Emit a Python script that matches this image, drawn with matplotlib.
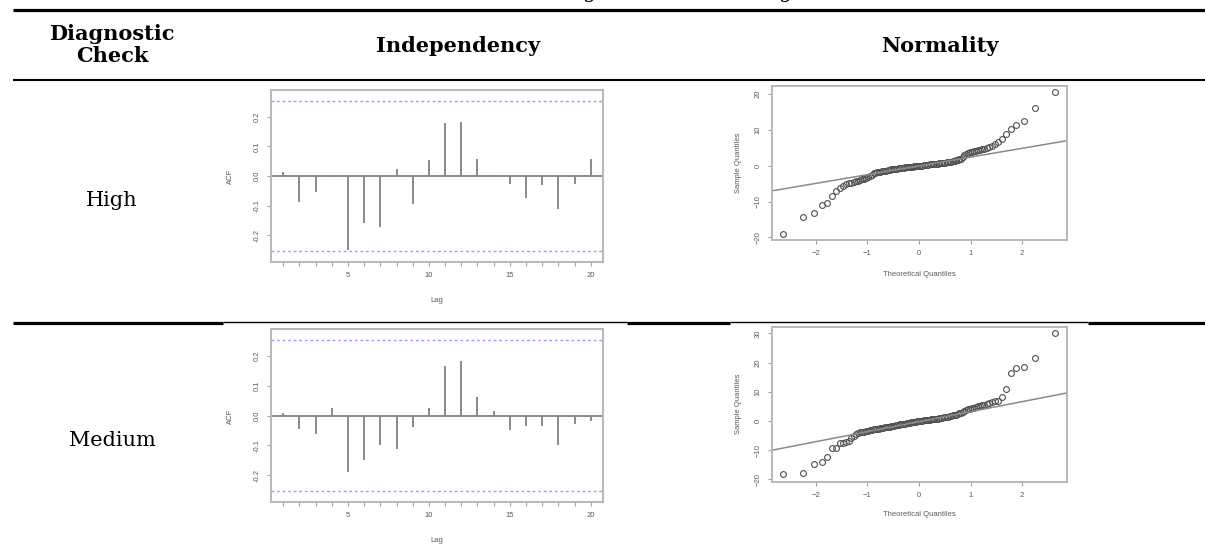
import matplotlib
matplotlib.use("Agg")
import matplotlib.pyplot as plt
from matplotlib.lines import Line2D

# ---- data ----
row_labels = ["High", "Medium"]
col_headers = ["Diagnostic\nCheck", "Independency", "Normality"]

lags = list(range(1, 21))
acf_high = [0.013, -0.087, -0.053, -0.004, -0.250, -0.157, -0.171, 0.022, -0.094, 0.054,
            0.180, 0.182, 0.058, 0.005, -0.028, -0.073, -0.030, -0.110, -0.028, 0.056]
acf_medium = [0.009, -0.045, -0.062, 0.025, -0.190, -0.150, -0.098, -0.111, -0.038, 0.024,
              0.166, 0.184, 0.062, 0.015, -0.047, -0.036, -0.036, -0.098, -0.027, -0.020]
acf_ci = 0.252

theo_q = [-2.64, -2.24, -2.04, -1.89, -1.78, -1.69, -1.61, -1.53, -1.47, -1.41, -1.36, -1.31,
          -1.26, -1.22, -1.18, -1.14, -1.10, -1.06, -1.02, -0.98, -0.95, -0.92, -0.88, -0.85,
          -0.82, -0.78, -0.75, -0.72, -0.69, -0.66, -0.63, -0.60, -0.57, -0.54, -0.51, -0.48,
          -0.45, -0.42, -0.39, -0.36, -0.33, -0.30, -0.27, -0.24, -0.21, -0.18, -0.15, -0.12,
          -0.09, -0.06, -0.03, 0.00, 0.03, 0.06, 0.09, 0.12, 0.15, 0.18, 0.21, 0.24, 0.27,
          0.30, 0.33, 0.36, 0.39, 0.42, 0.45, 0.48, 0.51, 0.54, 0.57, 0.60, 0.63, 0.66, 0.69,
          0.72, 0.75, 0.78, 0.82, 0.85, 0.88, 0.92, 0.95, 0.98, 1.02, 1.06, 1.10, 1.14, 1.18,
          1.22, 1.26, 1.31, 1.36, 1.41, 1.47, 1.53, 1.61, 1.69, 1.78, 1.89, 2.04, 2.24, 2.64]
sample_high = [-19.0, -14.2, -13.2, -10.9, -10.4, -8.4, -7.0, -6.2, -5.6, -5.2, -4.9, -4.7,
               -4.5, -4.3, -4.1, -3.9, -3.8, -3.6, -3.4, -3.2, -2.9, -2.5, -2.1, -1.9,
               -1.8, -1.7, -1.6, -1.5, -1.45, -1.4, -1.3, -1.2, -1.1, -1.0, -0.95, -0.9,
               -0.8, -0.75, -0.7, -0.6, -0.55, -0.5, -0.45, -0.4, -0.35, -0.3, -0.25, -0.2,
               -0.15, -0.1, -0.05, 0.0, 0.05, 0.1, 0.15, 0.2, 0.3, 0.35, 0.4, 0.45, 0.5,
               0.55, 0.6, 0.65, 0.7, 0.75, 0.8, 0.85, 0.9, 1.0, 1.05, 1.1, 1.2, 1.3, 1.4,
               1.5, 1.65, 1.8, 2.0, 2.4, 2.9, 3.3, 3.6, 3.8, 4.0, 4.1, 4.25, 4.4, 4.5,
               4.6, 4.8, 5.0, 5.2, 5.5, 6.0, 6.6, 7.4, 8.9, 10.3, 11.3, 12.6, 16.1, 20.5]
sample_medium = [-18.3, -17.9, -14.7, -13.9, -12.5, -9.4, -9.1, -7.7, -7.4, -7.2, -7.0, -5.8,
                 -5.0, -4.4, -4.0, -3.9, -3.7, -3.6, -3.4, -3.3, -3.2, -3.1, -2.9, -2.8,
                 -2.7, -2.6, -2.5, -2.4, -2.3, -2.2, -2.1, -2.0, -1.9, -1.8, -1.7, -1.6,
                 -1.5, -1.4, -1.3, -1.2, -1.1, -1.0, -0.9, -0.8, -0.7, -0.6, -0.5, -0.4,
                 -0.3, -0.2, -0.1, 0.0, 0.1, 0.15, 0.2, 0.3, 0.35, 0.4, 0.5, 0.55, 0.6,
                 0.7, 0.75, 0.8, 0.9, 1.0, 1.1, 1.2, 1.3, 1.4, 1.5, 1.7, 1.8, 1.9, 2.1,
                 2.2, 2.4, 2.6, 2.9, 3.2, 3.5, 3.8, 4.0, 4.2, 4.4, 4.6, 4.8, 5.0, 5.2,
                 5.4, 5.6, 5.8, 6.1, 6.4, 6.7, 7.0, 8.1, 11.0, 16.3, 18.3, 18.4, 21.7, 30.1]
# qqline (intercept, slope)
qqline_high = (0.0, 2.45)
qqline_medium = (-0.23, 3.43)

W, H = 1205, 556
fig = plt.figure(figsize=(W / 100, H / 100), dpi=100)
fig.patch.set_facecolor("white")

SERIF = "DejaVu Serif"
SANS = "Liberation Sans"
GRAY_TXT = "#5a5a5a"
SMALL = 5.5


def px_axes(x0, y0, x1, y1):
    return fig.add_axes([x0 / W, 1 - y1 / H, (x1 - x0) / W, (y1 - y0) / H])


def hline(y, x0, x1, lw):
    fig.add_artist(Line2D([x0 / W, x1 / W], [1 - y / H, 1 - y / H],
                          transform=fig.transFigure, color="black", lw=lw,
                          solid_capstyle="butt"))


def ftext(x, y, s, **kw):
    fig.text(x / W, 1 - y / H, s, **kw)


def r_style(ax):
    for sp in ax.spines.values():
        sp.set_color("#b8b8b8")
        sp.set_linewidth(1.4)
    ax.tick_params(direction="out", length=3, width=0.8, color="#a0a0a0",
                   labelsize=SMALL, labelcolor=GRAY_TXT, pad=4.5)
    for lab in ax.get_yticklabels():
        lab.set_rotation(90)
        lab.set_va("center")
    for lab in ax.get_xticklabels() + ax.get_yticklabels():
        lab.set_family(SANS)


def draw_acf(ax, values):
    ax.vlines(lags, 0, values, color="#8a8a8a", lw=1.4)
    ax.axhline(0, color="#8a8a8a", lw=1.4)
    for c in (acf_ci, -acf_ci):
        ax.axhline(c, color="#9a9aff", lw=1.0, ls=(0, (2, 2)))
    ax.set_xlim(0.24, 20.76)
    ax.set_ylim(-0.29, 0.29)
    ax.set_xticks([5, 10, 15, 20])
    ax.set_xticks(lags, minor=True)
    ax.tick_params(axis="x", which="minor", direction="out", length=3, width=0.8,
                   color="#a0a0a0")
    ax.set_yticks([-0.2, -0.1, 0.0, 0.1, 0.2])
    ax.set_yticklabels(["-0.2", "-0.1", "0.0", "0.1", "0.2"])
    r_style(ax)


def draw_qq(ax, sample, line, yticks, ylim):
    ax.plot(theo_q, sample, "o", mfc="none", mec="#505050", ms=4.2, mew=0.8)
    b, m = line
    ax.axline((0, b), slope=m, color="#8a8a8a", lw=1.1)
    ax.set_xlim(-2.85, 2.87)
    ax.set_ylim(*ylim)
    ax.set_xticks([-2, -1, 0, 1, 2])
    ax.set_yticks(yticks)
    r_style(ax)


# ---- table rules ----
hline(9.5, 13, W, 2.3)
hline(80.3, 13, W, 1.5)
for x0, x1, lw in [(13, 223, 2.3), (223, 627, 1.0), (627, 730, 2.3),
                   (730, 1088, 1.0), (1088, W, 2.3)]:
    hline(322.5 if lw > 2 else 322, x0, x1, lw)

# clipped caption descenders at the very top
ftext(590, -1.5, "g", family=SERIF, fontsize=15, va="baseline", ha="center")
ftext(786, -1.5, "g", family=SERIF, fontsize=15, va="baseline", ha="center")

# ---- headers ----
ftext(112, 45, col_headers[0], family=SERIF, fontweight="bold", fontsize=15,
      ha="center", va="center", linespacing=1.15)
ftext(458, 46, col_headers[1], family=SERIF, fontweight="bold", fontsize=15,
      ha="center", va="center")
ftext(940, 46, col_headers[2], family=SERIF, fontweight="bold", fontsize=15,
      ha="center", va="center")

ftext(112, 201, row_labels[0], family=SERIF, fontsize=15, ha="center", va="center")
ftext(112, 441, row_labels[1], family=SERIF, fontsize=15, ha="center", va="center")

# ---- ACF panels ----
ax1 = px_axes(271, 90, 603, 262)
draw_acf(ax1, acf_high)
ftext(230, 176, "ACF", family=SANS, fontsize=SMALL, color=GRAY_TXT, rotation=90,
      ha="center", va="center")
ftext(437, 301, "Lag", family=SANS, fontsize=SMALL, color=GRAY_TXT, ha="center",
      va="center")

ax2 = px_axes(271, 329, 603, 502)
draw_acf(ax2, acf_medium)
ftext(230, 416, "ACF", family=SANS, fontsize=SMALL, color=GRAY_TXT, rotation=90,
      ha="center", va="center")
ftext(437, 541, "Lag", family=SANS, fontsize=SMALL, color=GRAY_TXT, ha="center",
      va="center")

# ---- QQ panels ----
ax3 = px_axes(772, 86, 1067, 240)
draw_qq(ax3, sample_high, qqline_high, [-20, -10, 0, 10, 20], (-20.7, 22.3))
ftext(738, 163, "Sample Quantiles", family=SANS, fontsize=SMALL, color=GRAY_TXT,
      rotation=90, ha="center", va="center")
ftext(919, 274, "Theoretical Quantiles", family=SANS, fontsize=SMALL, color=GRAY_TXT,
      ha="center", va="center")

ax4 = px_axes(772, 327, 1067, 482)
draw_qq(ax4, sample_medium, qqline_medium, [-20, -10, 0, 10, 20, 30], (-20.9, 32.2))
ftext(738, 404, "Sample Quantiles", family=SANS, fontsize=SMALL, color=GRAY_TXT,
      rotation=90, ha="center", va="center")
ftext(919, 514, "Theoretical Quantiles", family=SANS, fontsize=SMALL, color=GRAY_TXT,
      ha="center", va="center")

fig.savefig("out.png", dpi=100, facecolor="white")
